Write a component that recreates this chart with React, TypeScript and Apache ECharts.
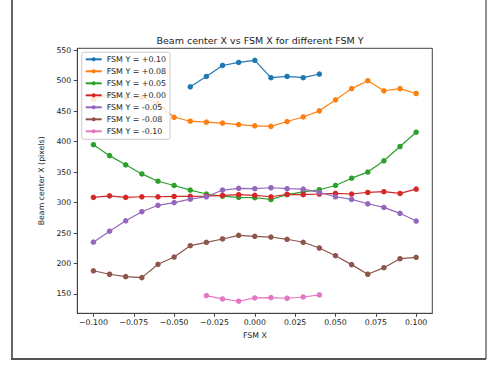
import React, { useEffect, useRef } from "react";
import * as echarts from "echarts";

const xFull = [-0.1, -0.09, -0.08, -0.07, -0.06, -0.05, -0.04, -0.03, -0.02, -0.01, 0.0, 0.01, 0.02, 0.03, 0.04, 0.05, 0.06, 0.07, 0.08, 0.09, 0.1];
const xBlue = [-0.04, -0.03, -0.02, -0.01, 0.0, 0.01, 0.02, 0.03, 0.04];
const xPink = [-0.03, -0.02, -0.01, 0.0, 0.01, 0.02, 0.03, 0.04];

const yP10 = [490, 507, 525, 530, 533.5, 505, 507, 505, 511];
const yP08 = [470, 477, 473, 472.5, 463, 440, 433.5, 432, 430.5, 428, 426, 425, 433, 440.5, 450.5, 468.5, 487, 500, 483.5, 487, 479];
const yP05 = [395, 377, 362, 347, 335, 328, 320.5, 314, 310.5, 308.5, 308, 305, 313, 317.5, 321, 328, 340, 350, 368.5, 392, 415.5];
const yP00 = [308.5, 311, 308.5, 309.5, 309.5, 310, 310.2, 310.7, 311.8, 312.9, 311.8, 309.5, 313.5, 312.9, 314, 315, 314, 316.6, 317.8, 315, 322];
const yM05 = [235, 253, 270, 285, 295.5, 300, 305.5, 309.5, 320.5, 323.3, 322.7, 324.3, 322.7, 322, 316.6, 309.5, 305.2, 298, 292, 282.3, 269.7];
const yM08 = [188, 182.3, 178.4, 176.8, 198.7, 210.6, 229.2, 234.7, 240.2, 246.2, 244.6, 243.4, 239.7, 234.8, 225.4, 212.8, 198.1, 182.3, 193.1, 207.9, 210.1];
const yM10 = [147.2, 141.8, 138, 143.4, 144, 142.9, 145, 148.4];

const seriesNames = ["FSM Y = +0.10", "FSM Y = +0.08", "FSM Y = +0.05", "FSM Y = +0.00", "FSM Y = -0.05", "FSM Y = -0.08", "FSM Y = -0.10"];
const seriesX = [xBlue, xFull, xFull, xFull, xFull, xFull, xPink];
const seriesY = [yP10, yP08, yP05, yP00, yM05, yM08, yM10];
const colors = ["#1f77b4", "#ff7f0e", "#2ca02c", "#d62728", "#9467bd", "#8c564b", "#e377c2"];

const xTicks = [-0.1, -0.075, -0.05, -0.025, 0, 0.025, 0.05, 0.075, 0.1];
const yTicks = [150, 200, 250, 300, 350, 400, 450, 500, 550];

const FONT = "DejaVu Sans";

export default function App() {
  const ref = useRef<HTMLDivElement>(null);
  useEffect(() => {
    if (!ref.current) return;
    const chart = echarts.init(ref.current, null, { renderer: "svg" });
    const fmtX = (v: number) => {
      const s = Math.abs(v).toFixed(3);
      return v < -1e-9 ? "\u2212" + s : s;
    };
    chart.setOption({
      animation: false,
      backgroundColor: "#ffffff",
      title: {
        text: "Beam center X vs FSM X for different FSM Y",
        left: 255,
        top: 30,
        textAlign: "center",
        textStyle: { fontFamily: FONT, fontSize: 9.5, fontWeight: "normal", color: "#222" },
      },
      grid: {
        left: 77.3,
        right: 61.7,
        top: 48.3,
        bottom: 51.7,
        show: true,
        borderColor: "#444",
        borderWidth: 1,
        backgroundColor: "transparent",
      },
      legend: {
        orient: "vertical",
        left: 81.7,
        top: 52.3,
        itemWidth: 16,
        itemHeight: 5,
        itemGap: 2,
        padding: [2, 4, 3, 3],
        backgroundColor: "rgba(255,255,255,0.8)",
        borderColor: "#cccccc",
        borderWidth: 1,
        borderRadius: 2,
        textStyle: { fontFamily: FONT, fontSize: 7.9, color: "#222", lineHeight: 10 },
        data: seriesNames,
      },
      xAxis: {
        type: "value",
        min: -0.11,
        max: 0.11,
        name: "FSM X",
        nameLocation: "middle",
        nameGap: 14,
        nameTextStyle: { fontFamily: FONT, fontSize: 7.8, color: "#222" },
        axisLine: { show: true, onZero: false, lineStyle: { color: "#444", width: 1 } },
        axisTick: { show: true, inside: false, length: 3.5, lineStyle: { color: "#444" }, customValues: xTicks },
        axisLabel: {
          fontFamily: FONT,
          fontSize: 7.8,
          color: "#222",
          margin: 5,
          customValues: xTicks,
          formatter: (v: number) => fmtX(v),
        },
        splitLine: { show: false },
      },
      yAxis: {
        type: "value",
        min: 118.2,
        max: 553.2,
        name: "Beam center X (pixels)",
        nameLocation: "middle",
        nameGap: 22,
        nameRotate: 90,
        nameTextStyle: { fontFamily: FONT, fontSize: 7.8, color: "#222" },
        axisLine: { show: true, onZero: false, lineStyle: { color: "#444", width: 1 } },
        axisTick: { show: true, inside: false, length: 3.5, lineStyle: { color: "#444" }, customValues: yTicks },
        axisLabel: {
          fontFamily: FONT,
          fontSize: 7.8,
          color: "#222",
          margin: 6,
          customValues: yTicks,
          formatter: (v: number) => String(Math.round(v)),
        },
        splitLine: { show: false },
      },
      graphic: [
        { type: "line", shape: { x1: 12, y1: 0, x2: 12, y2: 359 }, style: { stroke: "#666", lineWidth: 2 } },
        { type: "line", shape: { x1: 11, y1: 359, x2: 486, y2: 359 }, style: { stroke: "#555", lineWidth: 2 } },
        { type: "line", shape: { x1: 486, y1: 0, x2: 486, y2: 359 }, style: { stroke: "#222", lineWidth: 1 } },
      ],
      series: seriesNames.map((name, i) => ({
        name,
        type: "line",
        data: seriesX[i].map((x, j) => [x, seriesY[i][j]]),
        symbol: "circle",
        symbolSize: 5.5,
        color: colors[i],
        lineStyle: { width: 1.2, color: colors[i] },
        itemStyle: { color: colors[i] },
        emphasis: { disabled: true },
      })),
    });
    return () => chart.dispose();
  }, []);
  return <div ref={ref} style={{ position: "fixed", left: 0, top: 0, width: 494, height: 365 }} />;
}
